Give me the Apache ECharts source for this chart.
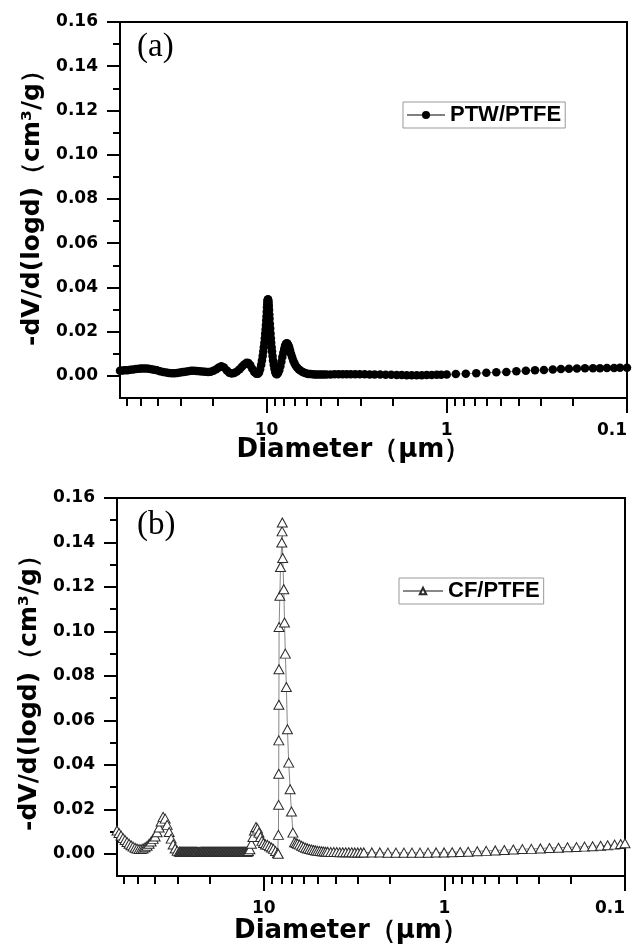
<!DOCTYPE html>
<html>
<head>
<meta charset="utf-8">
<title>Pore size distribution</title>
<script src="https://cdn.jsdelivr.net/npm/echarts@6/dist/echarts.min.js"></script>
<style>
    html, body { margin: 0; padding: 0; background: #fff; }
    #main { width: 639px; height: 945px; }
</style>
</head>
<body>
<div id="main"></div>
<script>
// (a) PTW/PTFE : diameter (um) / -dV/d(logd) (cm3/g)
var diamA = [
    65, 63, 61, 59, 57, 55, 53, 51, 49.5, 48,
    46.5, 45, 43.5, 42, 40.5, 39, 37.5, 36, 34.8, 33.6,
    32.4, 31.3, 30.2, 29.2, 28.2, 27.2, 26.2, 25.3, 24.4, 23.5,
    22.7, 21.9, 21.1, 20.4, 19.7, 19.0, 18.4, 17.8, 17.2, 16.6,
    16.1, 15.6, 15.1, 14.6, 14.1, 13.7, 13.3, 12.9, 12.6, 12.3,
    12.0, 11.7, 11.4, 11.15, 11.0,
    // peaks near 10 um
    10.85, 10.7, 10.6, 10.5, 10.42, 10.35, 10.28, 10.22, 10.17, 10.12,
    10.08, 10.04, 10.0, 9.97, 9.94, 9.91, 9.88, 9.85, 9.81, 9.77,
    9.74, 9.71, 9.68, 9.65, 9.62, 9.58, 9.54, 9.5, 9.46, 9.42,
    9.37, 9.32, 9.26, 9.2, 9.12, 9.04, 8.95, 8.85, 8.75, 8.62,
    8.5, 8.38, 8.27, 8.17, 8.07, 7.98, 7.9, 7.82, 7.74, 7.66,
    7.58, 7.49, 7.4, 7.31, 7.21, 7.11, 7.0, 6.88, 6.75, 6.61,
    6.46, 6.31, 6.16, 6.0, 5.85, 5.7, 5.55, 5.4, 5.25, 5.1,
    4.95, 4.8,
    // small pores
    4.64, 4.41, 4.19, 3.98, 3.78, 3.59, 3.41, 3.22, 3.04, 2.855,
    2.678, 2.512, 2.342, 2.182, 2.033, 1.896, 1.778, 1.668, 1.565, 1.468,
    1.377, 1.292, 1.212, 1.137, 1.073, 1.0, 0.891, 0.784, 0.686, 0.603,
    0.531, 0.467, 0.411, 0.364, 0.324, 0.289, 0.258, 0.2326, 0.21, 0.1896,
    0.171, 0.1545, 0.1413, 0.1292, 0.118, 0.1094, 0.1
];
var dvA = [
    0.0023, 0.0024, 0.0025, 0.0026, 0.0028, 0.0029, 0.0031, 0.0032, 0.0033, 0.0033,
    0.0033, 0.0032, 0.0030, 0.0028, 0.0025, 0.0021, 0.0018, 0.0015, 0.0013, 0.0012,
    0.0012, 0.0013, 0.0015, 0.0017, 0.0019, 0.0021, 0.0023, 0.0023, 0.0022, 0.0021,
    0.0020, 0.0019, 0.0018, 0.0019, 0.0023, 0.0030, 0.0038, 0.0044, 0.0038, 0.0024,
    0.0014, 0.0011, 0.0013, 0.0020, 0.0030, 0.0041, 0.0052, 0.0059, 0.0058, 0.0048,
    0.0032, 0.0018, 0.0010, 0.0010, 0.0015,
    0.003, 0.005, 0.007, 0.009, 0.011, 0.013, 0.015, 0.017, 0.019, 0.021,
    0.023, 0.025, 0.027, 0.029, 0.031, 0.0325, 0.0337, 0.0344, 0.0346, 0.0341,
    0.0331, 0.0316, 0.0298, 0.0278, 0.0258, 0.0236, 0.0214, 0.0192, 0.017, 0.015,
    0.013, 0.011, 0.009, 0.007, 0.005, 0.0032, 0.0018, 0.0009, 0.0007, 0.0013,
    0.0026, 0.0044, 0.0064, 0.0085, 0.0105, 0.0122, 0.0135, 0.0143, 0.0147, 0.0146,
    0.0140, 0.0129, 0.0115, 0.0099, 0.0084, 0.0070, 0.0057, 0.0046, 0.0037, 0.0029,
    0.0023, 0.0018, 0.0014, 0.0011, 0.0009, 0.0008, 0.0007, 0.0006, 0.0006, 0.0006,
    0.0006, 0.0006,
    0.0006, 0.0006, 0.0007, 0.0007, 0.0007, 0.0007, 0.0007, 0.0007, 0.0007, 0.0007,
    0.0006, 0.0006, 0.0006, 0.0005, 0.0005, 0.0004, 0.0004, 0.0003, 0.0003, 0.0003,
    0.0003, 0.0004, 0.0004, 0.0005, 0.0005, 0.0006, 0.0008, 0.0010, 0.0012, 0.0014,
    0.0016, 0.0018, 0.0021, 0.0023, 0.0025, 0.0027, 0.0029, 0.0031, 0.0032, 0.0033,
    0.0034, 0.0035, 0.0035, 0.0036, 0.0036, 0.0037, 0.0037
];

// (b) CF/PTFE
var diamB = [
    65, 63.36, 61.76, 60.2, 58.68, 57.2, 55.75, 54.34, 52.97, 51.63,
    50.33, 49.06, 47.82, 46.61, 45.43, 44.29, 43.17, 42.08, 41.01, 39.98,
    38.97, 37.98, 37.03, 36.09, 35.18, 34.29, 33.42, 32.58, 31.76, 30.95,
    30.17,
    // flat, very dense part
    29.41, 29.13, 28.85, 28.58, 28.30, 28.03, 27.77, 27.50, 27.24, 26.98,
    26.72, 26.47, 26.21, 25.96, 25.71, 25.47, 25.23, 24.99, 24.75, 24.51,
    24.28, 24.04, 23.82, 23.59, 23.36, 23.14, 22.92, 22.70, 22.48, 22.27,
    22.06, 21.84, 21.64, 21.43, 21.23, 21.02, 20.82, 20.62, 20.43, 20.23,
    20.04, 19.85, 19.66, 19.47, 19.28, 19.10, 18.92, 18.74, 18.56, 18.38,
    18.20, 18.03, 17.86, 17.69, 17.52, 17.35, 17.19, 17.02, 16.86, 16.70,
    16.54, 16.38, 16.22, 16.07, 15.92, 15.76, 15.61, 15.46, 15.32, 15.17,
    15.03, 14.88, 14.74, 14.60, 14.46, 14.32, 14.19, 14.05, 13.92, 13.78,
    13.65, 13.52, 13.39, 13.26, 13.14, 13.01, 12.89, 12.76, 12.64, 12.52,
    12.40, 12.28, 12.17,
    11.94, 11.71, 11.49, 11.27, 11.05, 10.84, 10.64, 10.43, 10.24, 10.04,
    9.79, 9.54, 9.3, 9.06, 8.84, 8.61, 8.39,
    // main peak
    8.32, 8.3, 8.28, 8.27, 8.26, 8.25, 8.24, 8.23, 8.15, 8.08,
    7.95, 7.92, 7.9, 7.86, 7.75, 7.68, 7.6, 7.5, 7.4, 7.28,
    7.15, 7.03, 6.9, 6.76, 6.62,
    6.5, 6.336, 6.176, 6.02, 5.868, 5.72, 5.575, 5.434, 5.297, 5.163,
    5.033, 4.906, 4.782, 4.661, 4.543, 4.429,
    4.262, 4.102, 3.947, 3.799, 3.656, 3.518, 3.386, 3.258, 3.136, 3.018, 2.904,
    2.794, 2.522, 2.277, 2.055, 1.855, 1.675, 1.512, 1.365, 1.232, 1.112,
    1.004, 0.906, 0.818, 0.739, 0.658, 0.587, 0.523, 0.466, 0.4155, 0.37,
    0.33, 0.294, 0.262, 0.2336, 0.2082, 0.1856, 0.1675, 0.1512, 0.1365, 0.1248,
    0.1141, 0.1057, 0.1
];
var dvB = [
    0.0105, 0.0093, 0.0082, 0.0071, 0.0062, 0.0053, 0.0045, 0.0038, 0.0032, 0.0027,
    0.0023, 0.0021, 0.0021, 0.0024, 0.0029, 0.0036, 0.0045, 0.0055, 0.0067, 0.0078,
    0.0097, 0.0118, 0.0145, 0.0166, 0.0158, 0.0130, 0.0098, 0.0068, 0.0042, 0.0024,
    0.0013,
    0.0010, 0.0009, 0.0009, 0.0009, 0.0009, 0.0009, 0.0009, 0.0009, 0.0009, 0.0009,
    0.0009, 0.0009, 0.0009, 0.0009, 0.0009, 0.0009, 0.0009, 0.0009, 0.0009, 0.0009,
    0.0009, 0.0009, 0.0009, 0.0009, 0.0008, 0.0008, 0.0008, 0.0008, 0.0008, 0.0009,
    0.0009, 0.0009, 0.0009, 0.0009, 0.0009, 0.0009, 0.0009, 0.0009, 0.0009, 0.0009,
    0.0009, 0.0009, 0.0009, 0.0009, 0.0009, 0.0009, 0.0009, 0.0009, 0.0009, 0.0009,
    0.0009, 0.0009, 0.0009, 0.0009, 0.0009, 0.0009, 0.0009, 0.0009, 0.0009, 0.0009,
    0.0009, 0.0009, 0.0009, 0.0009, 0.0009, 0.0009, 0.0009, 0.0009, 0.0009, 0.0009,
    0.0009, 0.0009, 0.0009, 0.0009, 0.0009, 0.0009, 0.0009, 0.0009, 0.0009, 0.0009,
    0.0009, 0.0009, 0.0009, 0.0009, 0.0009, 0.0009, 0.0009, 0.0009, 0.0009, 0.0009,
    0.0009, 0.0010, 0.0012,
    0.0020, 0.0045, 0.0075, 0.0105, 0.0120, 0.0113, 0.0095, 0.0075, 0.0058, 0.0048,
    0.0042, 0.0040, 0.0034, 0.0028, 0.0022, 0.0012, 0.0003,
    0.0000, 0.0085, 0.022, 0.036, 0.051, 0.067, 0.083, 0.102, 0.116, 0.129,
    0.140, 0.145, 0.149, 0.133, 0.119, 0.104, 0.090, 0.075, 0.056, 0.041,
    0.029, 0.019, 0.0095, 0.0052, 0.0048,
    0.0045, 0.0041, 0.0036, 0.0031, 0.0027, 0.0024, 0.0021, 0.0019, 0.0017, 0.0015,
    0.0013, 0.0012, 0.0011, 0.0010, 0.0009, 0.0009,
    0.0008, 0.0008, 0.0008, 0.0007, 0.0007, 0.0007, 0.0007, 0.0007, 0.0006, 0.0006, 0.0006,
    0.0006, 0.0006, 0.0006, 0.0005, 0.0005, 0.0005, 0.0005, 0.0005, 0.0005, 0.0006,
    0.0006, 0.0007, 0.0008, 0.0009, 0.0011, 0.0013, 0.0015, 0.0017, 0.0019, 0.0021,
    0.0022, 0.0024, 0.0026, 0.0027, 0.0029, 0.0030, 0.0032, 0.0034, 0.0036, 0.0038,
    0.0041, 0.0044, 0.0047
];

// ticks
var xMin = 0.1, xMax = 65;
var xMajorTicks = [0.1, 1, 10];
var xMinorTicks = [0.2, 0.3, 0.4, 0.5, 0.6, 0.7, 0.8, 0.9, 2, 3, 4, 5, 6, 7, 8, 9, 20, 30, 40, 50, 60];
var yMajorTicks = [0, 0.02, 0.04, 0.06, 0.08, 0.10, 0.12, 0.14, 0.16];
var yMinorTicks = [0.01, 0.03, 0.05, 0.07, 0.09, 0.11, 0.13, 0.15];
var seriesNames = ['PTW/PTFE', 'CF/PTFE'];
var panelLabels = ['(a)', '(b)'];

var chart = echarts.init(document.getElementById('main'));

var grids = [
    {left: 120, top: 22, width: 507, height: 376},
    {left: 117, top: 498, width: 508, height: 378}
];

function pairs(xs, ys) {
    return xs.map(function (x, i) { return [x, ys[i]]; });
}

var tickFont = 'DejaVu Sans';

var xAxes = [], yAxes = [];
grids.forEach(function (g, i) {
    // data axis (log)
    xAxes.push({
        type: 'log', logBase: 10, gridIndex: i, position: 'bottom', min: xMin, max: xMax, inverse: true,
        axisLine: {show: true, onZero: false, lineStyle: {color: '#000', width: 2}},
        axisTick: {show: false}, axisLabel: {show: false}, splitLine: {show: false},
        name: 'Diameter（μm）', nameLocation: 'middle', nameGap: i === 0 ? 39 : 42,
        nameTextStyle: {fontFamily: 'DejaVu Sans', fontWeight: 'bold', fontSize: 26, color: '#000', padding: [0, 40, 0, 0]}
    });
    // major ticks + labels, in log10 units
    var majors = xMajorTicks.map(Math.log10);
    xAxes.push({
        type: 'value', gridIndex: i, position: 'bottom', min: Math.log10(xMin), max: Math.log10(xMax), inverse: true,
        axisLine: {show: false, onZero: false}, splitLine: {show: false},
        axisTick: {show: true, customValues: majors, length: 15, lineStyle: {color: '#000', width: 2}},
        axisLabel: {
            customValues: majors, margin: 24,
            fontFamily: tickFont, fontWeight: 'bold', fontSize: 17, color: '#000',
            alignMinLabel: 'right',
            formatter: function (v) {
                return String(Math.round(Math.pow(10, v) * 10) / 10);
            }
        }
    });
    // minor ticks
    xAxes.push({
        type: 'value', gridIndex: i, position: 'bottom', min: Math.log10(xMin), max: Math.log10(xMax), inverse: true,
        axisLine: {show: false, onZero: false}, splitLine: {show: false}, axisLabel: {show: false},
        axisTick: {show: true, customValues: xMinorTicks.map(Math.log10), length: 8, lineStyle: {color: '#000', width: 2}}
    });

    yAxes.push({
        type: 'value', gridIndex: i, position: 'left', min: -0.01, max: 0.16, interval: 0.01,
        axisLine: {show: true, onZero: false, lineStyle: {color: '#000', width: 2}},
        splitLine: {show: false},
        axisTick: {show: true, customValues: yMajorTicks, length: 13, lineStyle: {color: '#000', width: 2}},
        axisLabel: {
            customValues: yMajorTicks, margin: 22,
            fontFamily: tickFont, fontWeight: 'bold', fontSize: 17, color: '#000',
            formatter: function (v) { return v.toFixed(2); }
        },
        name: '-dV/d(logd)（cm³/g）', nameLocation: 'middle', nameGap: 74,
        nameTextStyle: {fontFamily: 'DejaVu Sans', fontWeight: 'bold', fontSize: 25, color: '#000', padding: [0, 0, 0, i === 0 ? 16 : 0]}
    });
    yAxes.push({
        type: 'value', gridIndex: i, position: 'left', min: -0.01, max: 0.16, interval: 0.01,
        axisLine: {show: false, onZero: false}, splitLine: {show: false}, axisLabel: {show: false},
        axisTick: {show: true, customValues: yMinorTicks, length: 7, lineStyle: {color: '#000', width: 2}}
    });
});

var option = {
    animation: false,
    backgroundColor: '#fff',
    grid: grids.map(function (g) {
        return {left: g.left, top: g.top, width: g.width, height: g.height, show: true, borderColor: '#000', borderWidth: 2, containLabel: false};
    }),
    xAxis: xAxes,
    yAxis: yAxes,
    legend: [
        {
            data: [seriesNames[0]], left: 403, top: 102, itemWidth: 38, itemHeight: 10, itemGap: 0,
            padding: [2, 4, 2, 3], borderColor: '#999', borderWidth: 1,
            textStyle: {fontFamily: 'Liberation Sans', fontWeight: 'bold', fontSize: 22, color: '#000'}
        },
        {
            data: [seriesNames[1]], left: 399, top: 578, itemWidth: 40, itemHeight: 8, itemGap: 0,
            padding: [2, 4, 2, 3], borderColor: '#999', borderWidth: 1,
            textStyle: {fontFamily: 'Liberation Sans', fontWeight: 'bold', fontSize: 22, color: '#000'}
        }
    ],
    graphic: [
        {type: 'text', left: 137, top: 31, style: {text: panelLabels[0], fontFamily: 'Liberation Serif', fontSize: 33, fill: '#000'}},
        {type: 'text', left: 137, top: 509, style: {text: panelLabels[1], fontFamily: 'Liberation Serif', fontSize: 33, fill: '#000'}}
    ],
    series: [
        {
            name: seriesNames[0], type: 'line', xAxisIndex: 0, yAxisIndex: 0,
            data: pairs(diamA, dvA),
            symbol: 'circle', symbolSize: 8.5, showSymbol: true,
            itemStyle: {color: '#000'},
            lineStyle: {color: '#808080', width: 1},
            emphasis: {disabled: true}
        },
        {
            name: seriesNames[1], type: 'line', xAxisIndex: 3, yAxisIndex: 2,
            data: pairs(diamB, dvB),
            symbol: 'triangle', symbolSize: [10, 9], showSymbol: true,
            itemStyle: {color: '#fff', borderColor: '#2a2a2a', borderWidth: 1},
            lineStyle: {color: '#888', width: 1},
            emphasis: {disabled: true}
        }
    ]
};

chart.setOption(option);
</script>
</body>
</html>
